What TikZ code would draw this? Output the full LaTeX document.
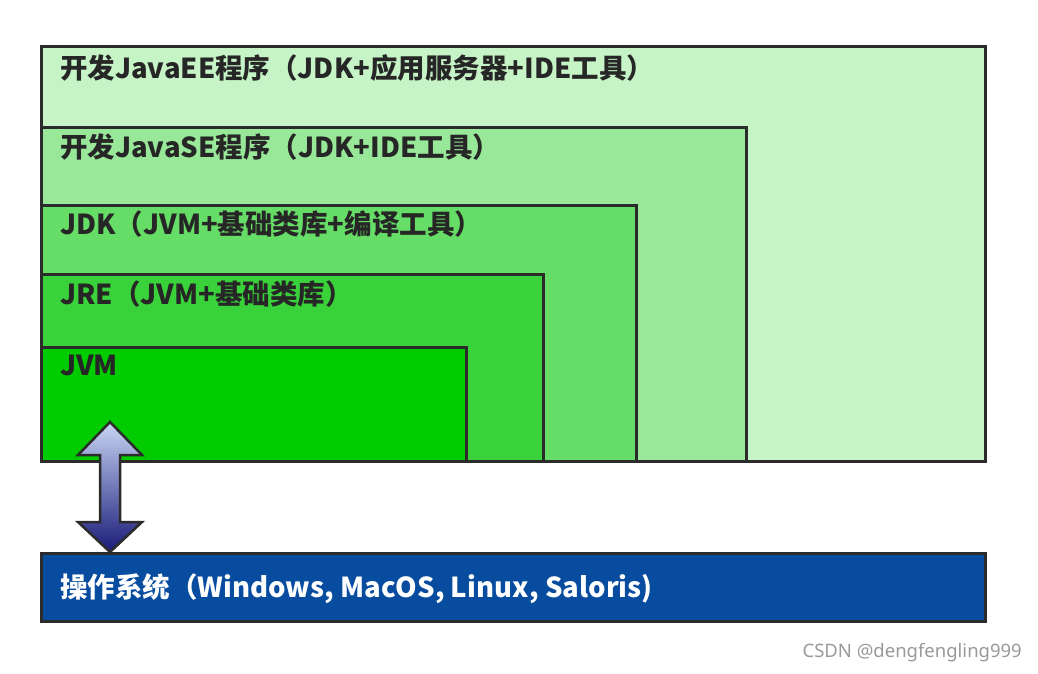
\documentclass[tikz,border=0pt]{standalone}
\usepackage{fontspec}
\newfontfamily\cjk{Noto Sans CJK SC}
\newfontfamily\marksans{Noto Sans}
\usepackage{xcolor}
\definecolor{cLine}{HTML}{2B2B2B}
\definecolor{cEE}{HTML}{C6F4C6}
\definecolor{cSE}{HTML}{99E899}
\definecolor{cJDK}{HTML}{66DD66}
\definecolor{cJRE}{HTML}{3AD23A}
\definecolor{cJVM}{HTML}{00CC00}
\definecolor{cOS}{HTML}{084CA0}
\definecolor{cText}{HTML}{262626}
\definecolor{cArrTop}{HTML}{C9D6F5}
\definecolor{cArrBot}{HTML}{1A1A78}
\definecolor{cMark}{HTML}{9A9A9A}
\usetikzlibrary{positioning,calc}
\tikzset{
  layer-box/.style={draw=cLine,line width=3pt,inner sep=0pt,outer sep=0pt,
    anchor=south west},
  layer-text/.style={font=\cjk\bfseries\fontsize{27.5}{31}\selectfont,
    text=cText,inner sep=0pt},
  os-box/.style={draw=cLine,line width=3pt,fill=cOS,inner sep=0pt,
    outer sep=0pt,anchor=north west,minimum width=944pt,minimum height=68pt},
  os-text/.style={font=\cjk\bfseries\fontsize{27.5}{31}\selectfont,
    text=white,inner sep=0pt},
  arrow-os/.style={draw=cLine,line width=2.5pt,line join=miter,
    top color=cArrTop,bottom color=cArrBot},
  mark-text/.style={font=\marksans\fontsize{18.5}{22}\selectfont,text=cMark,
    inner sep=0pt},
}
\begin{document}
\begin{tikzpicture}[x=1pt,y=-1pt]
  \useasboundingbox[fill=white] (0,0) rectangle (1038,673);
  % nested layers, all sharing the bottom-left corner
  \node[layer-box,fill=cEE,minimum width=944pt,minimum height=415pt]  (ee)  at (41,461) {};
  \node[layer-box,fill=cSE,minimum width=705pt,minimum height=334pt]  (se)  at (41,461) {};
  \node[layer-box,fill=cJDK,minimum width=595pt,minimum height=256pt] (jdk) at (41,461) {};
  \node[layer-box,fill=cJRE,minimum width=502pt,minimum height=187pt] (jre) at (41,461) {};
  \node[layer-box,fill=cJVM,minimum width=425pt,minimum height=114pt] (jvm) at (41,461) {};
  \node[layer-text,below right=8pt and 19pt of ee.north west]  (ee-txt)  {开发JavaEE程序（JDK+应用服务器+IDE工具）};
  \node[layer-text,below right=7pt and 19pt of se.north west]  (se-txt)  {开发JavaSE程序（JDK+IDE工具）};
  \node[layer-text,below right=6pt and 19pt of jdk.north west] (jdk-txt) {JDK（JVM+基础类库+编译工具）};
  \node[layer-text,below right=7pt and 19pt of jre.north west] (jre-txt) {JRE（JVM+基础类库）};
  \node[layer-text,below right=8pt and 19pt of jvm.north west] (jvm-txt) {JVM};
  % operating system
  \node[os-box] (os) at (41,553) {};
  \node[os-text,right=19pt of os.west,yshift=-2pt] (os-txt) {操作系统（Windows, MacOS, Linux, Saloris)};
  % block arrow between JVM and OS
  \coordinate (up-tip) at ($(jvm.south west)+(69,-39)$);
  \coordinate (down-tip) at ($(os.north west)+(69,-1)$);
  \draw[arrow-os] (up-tip) -- ++(32,33) -- ++(-22,0) -- ++(0,67) -- ++(22,0)
    -- (down-tip) -- ++(-32,-30) -- ++(22,0) -- ++(0,-67) -- ++(-22,0) -- cycle;
  \node[mark-text,anchor=east] (mark) at (1022,653) {CSDN @dengfengling999};
\end{tikzpicture}
\end{document}
